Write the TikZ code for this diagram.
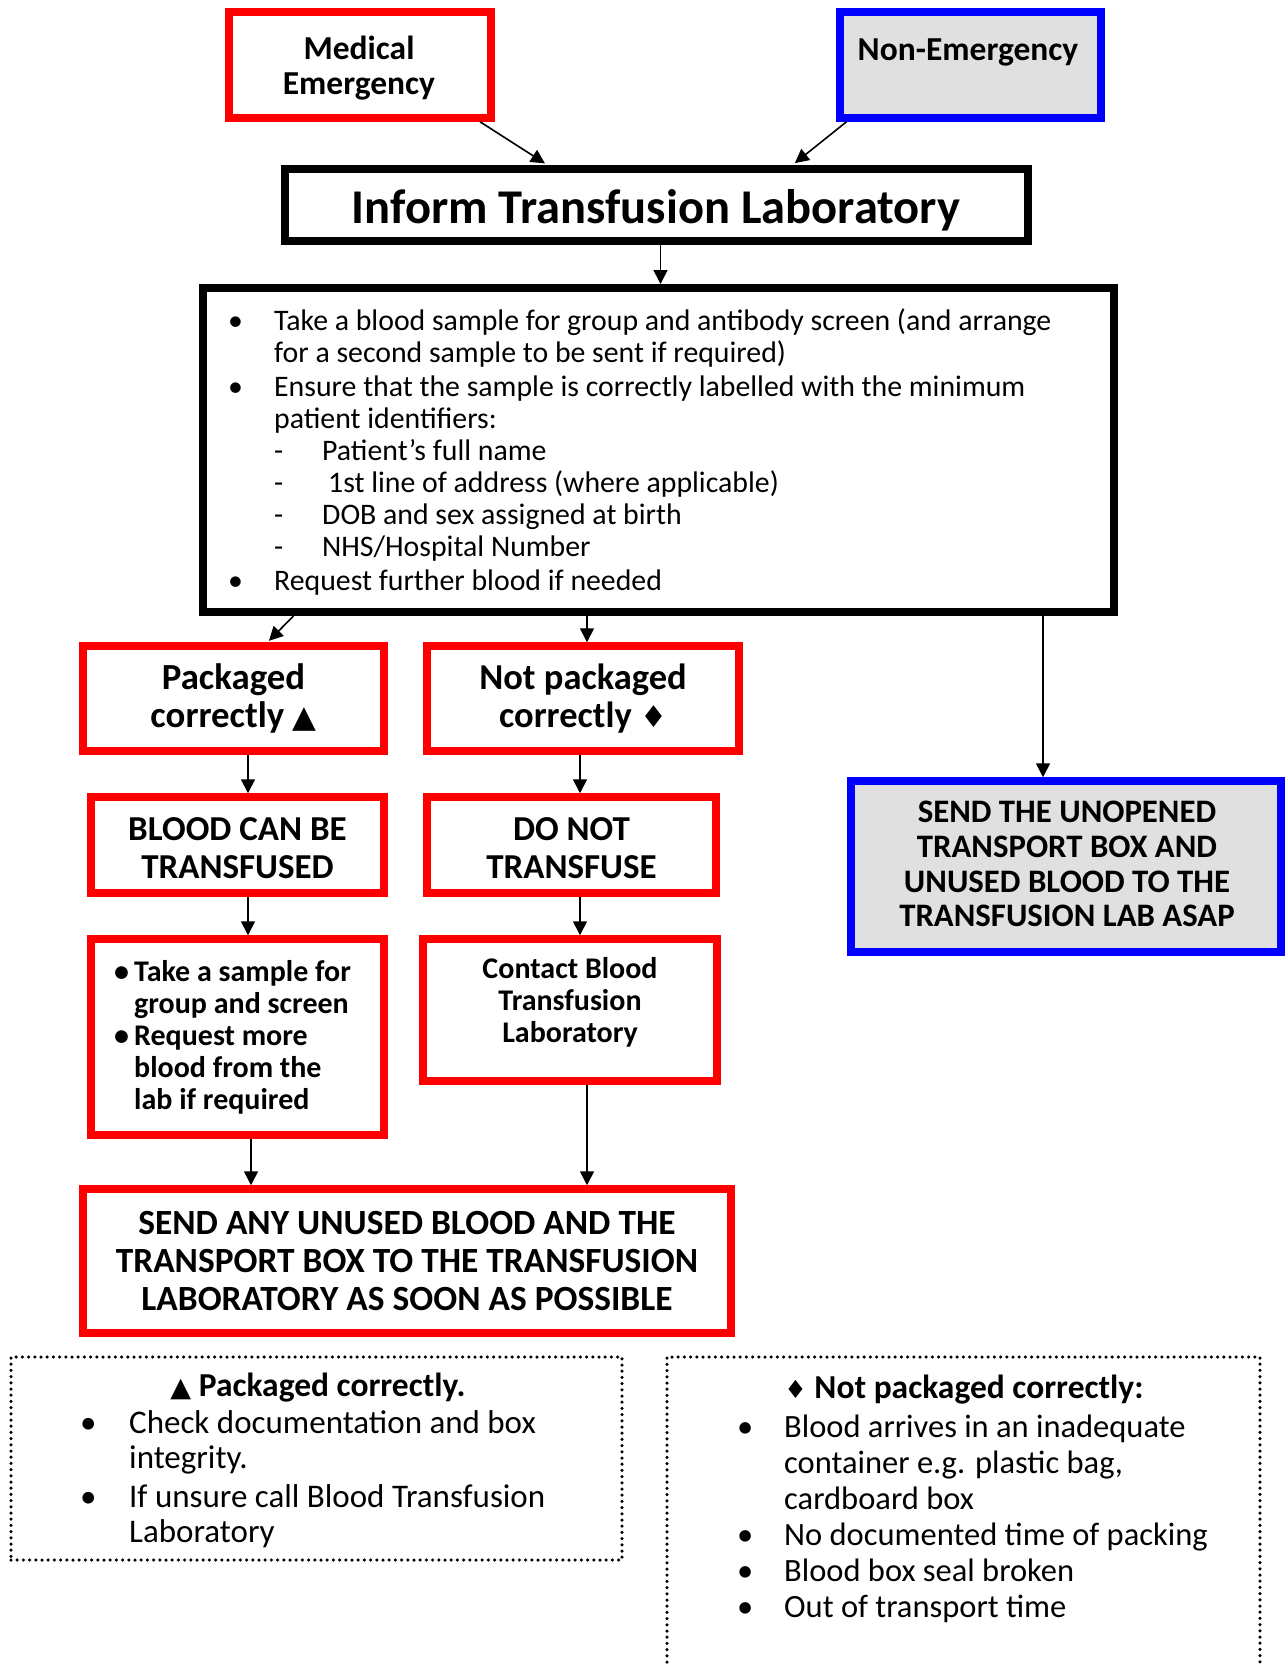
\documentclass[tikz,border=0pt]{standalone}
\usepackage{fontspec}
\setmainfont{Carlito}
\newfontfamily\symf{DejaVu Sans}
\usetikzlibrary{arrows.meta,calc}
\definecolor{myred}{RGB}{255,0,0}
\definecolor{myblue}{RGB}{0,0,255}
\definecolor{mygray}{RGB}{224,224,224}
\newcommand{\setfs}[2]{\fontsize{#1pt}{#2pt}\selectfont}
\newcommand{\tri}[1]{{\symf\fontsize{#1pt}{#1pt}\selectfont ▲}}
\newcommand{\dia}[1]{{\symf\fontsize{#1pt}{#1pt}\selectfont ♦}}
\begin{document}
\begin{tikzpicture}[x=1pt,y=-1pt,
  redbox/.style={draw=myred, line width=7.5pt, inner sep=0pt, align=center},
  bluebox/.style={draw=myblue, fill=mygray, line width=7.5pt, inner sep=0pt, align=center},
  blackbox/.style={draw=black, line width=8pt, inner sep=0pt, align=center},
  txt/.style={inner sep=0pt, align=center},
  ltxt/.style={inner sep=0pt, align=left, anchor=west},
  arr/.style={-{Triangle[length=14pt,width=14pt]}, line width=1.6pt},
  dotline/.style={line width=3.5pt, dash pattern=on 0pt off 6.2pt, line cap=round}]
\useasboundingbox (0,0) rectangle (1286,1666);
\clip (0,0) rectangle (1286,1666);

% top boxes
\node[redbox, minimum width=262pt, minimum height=106pt] (med) at (360,65) {};
\node[txt, font=\bfseries\setfs{33.5}{35}] (medtxt) at (359,68) {Medical\\Emergency};
\node[bluebox, minimum width=261pt, minimum height=106pt] (nonem) at (970.5,65) {};
\node[txt, font=\bfseries\setfs{33.5}{35}] (nonemtxt) at (968,52) {Non-Emergency};
\node[blackbox, minimum width=743pt, minimum height=72pt] (inform) at (656.5,205) {};
\node[txt, font=\bfseries\setfs{48.5}{50}] (informtxt) at (656,210) {Inform Transfusion Laboratory};

% big box
\node[blackbox, minimum width=911pt, minimum height=324pt] (big) at (658.5,450) {};
\node[ltxt, font=\setfs{29.8}{32}] (bigtxt) at (228,452) {%
\makebox[46pt][l]{\textbullet}Take a blood sample for group and antibody screen (and arrange\\
\hspace*{46pt}for a second sample to be sent if required)\\[2pt]
\makebox[46pt][l]{\textbullet}Ensure that the sample is correctly labelled with the minimum\\
\hspace*{46pt}patient identifiers:\\
\hspace*{46pt}\makebox[48pt][l]{-}Patient’s full name\\
\hspace*{46pt}\makebox[48pt][l]{-}\hspace*{6pt}1st line of address (where applicable)\\
\hspace*{46pt}\makebox[48pt][l]{-}DOB and sex assigned at birth\\
\hspace*{46pt}\makebox[48pt][l]{-}NHS/Hospital Number\\[2pt]
\makebox[46pt][l]{\textbullet}Request further blood if needed};

% left column
\node[redbox, minimum width=301pt, minimum height=105pt, font=\bfseries\setfs{36.8}{38.5}] (pack) at (233.5,698.5) {Packaged\\correctly \tri{31}};
\node[redbox, minimum width=293pt, minimum height=96pt] (blood) at (237.5,845) {};
\node[txt, font=\bfseries\setfs{35}{38}] (bloodtxt) at (237.5,848) {BLOOD CAN BE\\TRANSFUSED};
\node[redbox, minimum width=293pt, minimum height=196pt] (take) at (237.5,1037) {};
\node[ltxt, font=\bfseries\setfs{30}{32}] (taketxt) at (114,1037.5) {%
\makebox[20pt][l]{\textbullet}Take a sample for\\
\hspace*{20pt}group and screen\\
\makebox[20pt][l]{\textbullet}Request more\\
\hspace*{20pt}blood from the\\
\hspace*{20pt}lab if required};

% middle column
\node[redbox, minimum width=312pt, minimum height=105pt, font=\bfseries\setfs{36.5}{38.5}] (notpack) at (583,698.5) {Not packaged\\correctly \dia{30}};
\node[redbox, minimum width=289pt, minimum height=96pt] (donot) at (571.5,845) {};
\node[txt, font=\bfseries\setfs{35}{38}] (donottxt) at (571.5,848) {DO NOT\\TRANSFUSE};
\node[redbox, minimum width=294pt, minimum height=142pt] (contact) at (570,1010) {};
\node[txt, font=\bfseries\setfs{30}{32}] (contacttxt) at (570,1002) {Contact Blood\\Transfusion\\Laboratory};

% bottom red box
\node[redbox, minimum width=648pt, minimum height=144pt, font=\bfseries\setfs{35.4}{38}] (sendany) at (407,1261) {SEND ANY UNUSED BLOOD AND THE\\TRANSPORT BOX TO THE TRANSFUSION\\LABORATORY AS SOON AS POSSIBLE};

% right blue box
\node[bluebox, minimum width=430pt, minimum height=171pt] (unop) at (1066,866.5) {};
\node[txt, font=\bfseries\setfs{32.8}{34.8}] (unoptxt) at (1067,864) {SEND THE UNOPENED\\TRANSPORT BOX AND\\UNUSED BLOOD TO THE\\TRANSFUSION LAB ASAP};

% dotted notes
\node[draw, dotline, minimum width=611pt, minimum height=203pt, inner sep=0pt] (noteL) at (316.5,1458.5) {};
\node[txt, font=\bfseries\setfs{33.5}{35}] (noteLhead) at (318,1388) {\tri{27} Packaged correctly.};
\node[ltxt, font=\setfs{33}{35.5}] (noteLtxt) at (80,1479) {%
\makebox[49pt][l]{\textbullet}Check documentation and box\\
\hspace*{49pt}integrity.\\[3pt]
\makebox[49pt][l]{\textbullet}If unsure call Blood Transfusion\\
\hspace*{49pt}Laboratory};

\node[draw, dotline, minimum width=593pt, minimum height=400pt, inner sep=0pt] (noteR) at (963.5,1557) {};
\node[txt, font=\bfseries\setfs{33.5}{35}] (noteRhead) at (964,1390) {\dia{25} Not packaged correctly:};
\node[ltxt, font=\setfs{32.5}{36}] (noteRtxt) at (737,1519) {%
\makebox[47pt][l]{\textbullet}Blood arrives in an inadequate\\
\hspace*{47pt}container e.g. plastic bag,\\
\hspace*{47pt}cardboard box\\
\makebox[47pt][l]{\textbullet}No documented time of packing\\
\makebox[47pt][l]{\textbullet}Blood box seal broken\\
\makebox[47pt][l]{\textbullet}Out of transport time};

% connectors
\draw[arr, shorten >=3pt] ([xshift=120pt]med.south) -- ([xshift=-109pt]inform.north);
\draw[arr, shorten >=3pt] ([xshift=-124pt]nonem.south) -- ([xshift=136pt]inform.north);
\coordinate (c1) at ([xshift=4pt]inform.south);
\draw[arr] (c1) -- (c1 |- big.north);
\draw[arr, shorten >=2pt] ([xshift=-365pt]big.south) -- ([xshift=34pt]pack.north);
\coordinate (c2) at ([xshift=4pt]notpack.north);
\draw[arr] (c2 |- big.south) -- (c2);
\coordinate (c3) at ([xshift=-23pt]unop.north);
\draw[arr] (c3 |- big.south) -- (c3);
\coordinate (c4) at ([xshift=14.5pt]pack.south);
\draw[arr] (c4) -- (c4 |- blood.north);
\coordinate (c5) at ([xshift=-3pt]notpack.south);
\draw[arr] (c5) -- (c5 |- donot.north);
\coordinate (c6) at ([xshift=10.5pt]blood.south);
\draw[arr] (c6) -- (c6 |- take.north);
\coordinate (c7) at ([xshift=8.5pt]donot.south);
\draw[arr] (c7) -- (c7 |- contact.north);
\coordinate (c8) at ([xshift=13.5pt]take.south);
\draw[arr] (c8) -- (c8 |- sendany.north);
\coordinate (c9) at ([xshift=17pt]contact.south);
\draw[arr] (c9) -- (c9 |- sendany.north);
\end{tikzpicture}
\end{document}
